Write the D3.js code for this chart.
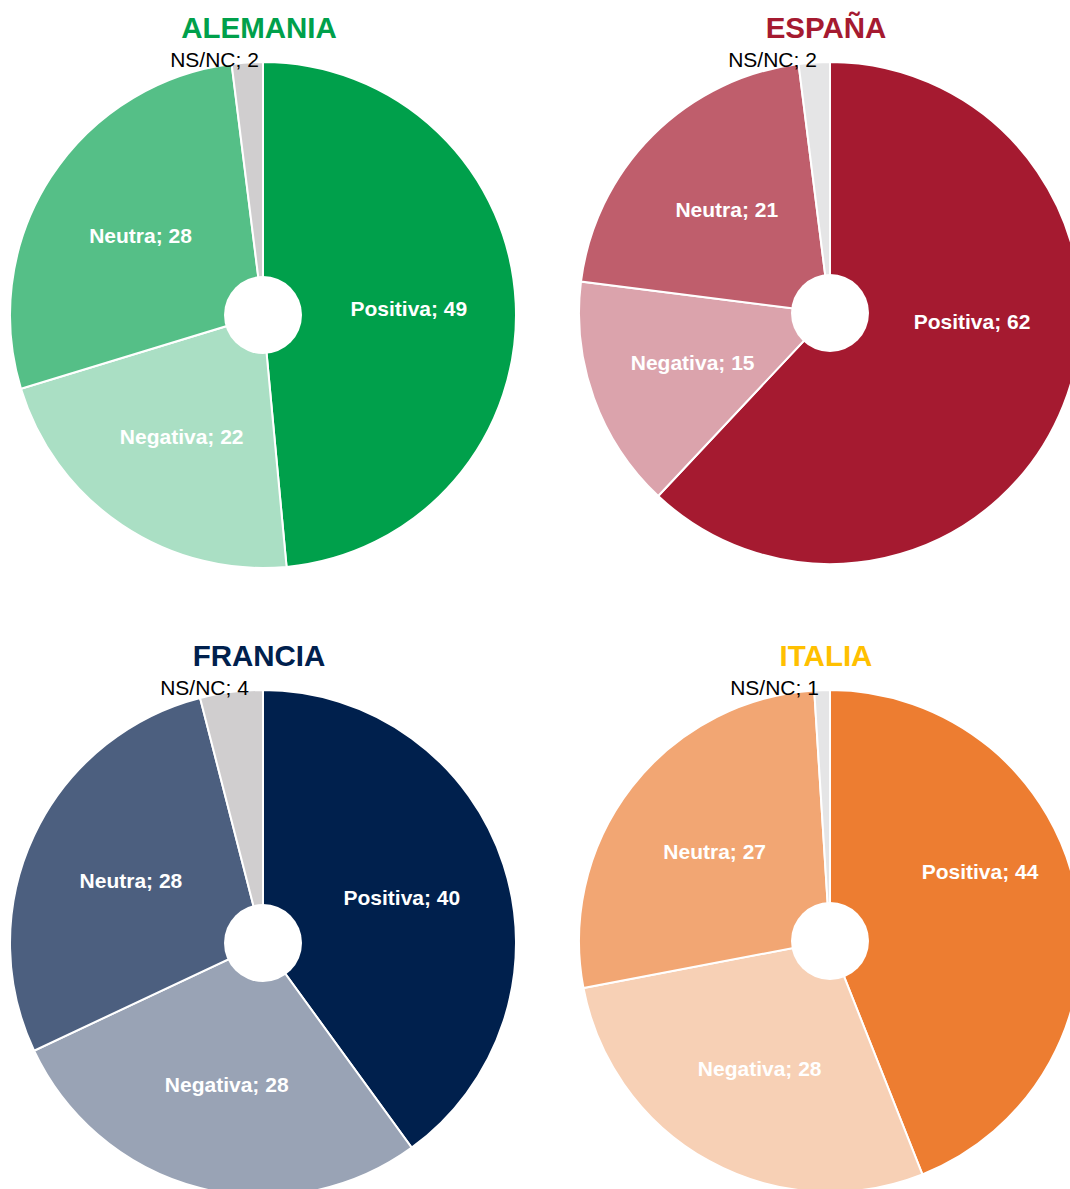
<!DOCTYPE html>
<html>
<head>
<meta charset="utf-8">
<script src="https://cdn.jsdelivr.net/npm/d3@7"></script>
<style>
  body { margin: 0; background: #fff; }
  svg { display: block; font-family: "Liberation Sans", Arial, sans-serif; }
</style>
</head>
<body>
<svg id="chart" width="1070" height="1189"></svg>
<script>
// data
const countries = ["ALEMANIA", "ESPAÑA", "FRANCIA", "ITALIA"];
const categories = ["Positiva", "Negativa", "Neutra", "NS/NC"];
const alemania = [49, 22, 28, 2];
const espana = [62, 15, 21, 2];
const francia = [40, 28, 28, 4];
const italia = [44, 28, 27, 1];
const values = [alemania, espana, francia, italia];

// colours per country: title, then one per category
const titleColors = ["#00A04B", "#A51A30", "#00204D", "#FFC000"];
const sliceColors = [
  ["#00A04B", "#AADFC4", "#55BF87", "#D0CECF"],
  ["#A51A30", "#DBA3AC", "#BF5E6C", "#E5E5E6"],
  ["#00204D", "#99A3B5", "#4C5F7F", "#D0CECF"],
  ["#ED7D31", "#F7D0B5", "#F2A673", "#E5E5E6"]
];

const svg = d3.select("#chart");

// 2 x 2 grid of pies (layout)
const layout = [
  { x: 263, y: 315, r: 253, smallDx: -48.5 },
  { x: 830, y: 313, r: 251, smallDx: -57.5, bigLabel: [142, 9] },
  { x: 263, y: 943, r: 253, smallDx: -58.5 },
  { x: 830, y: 941, r: 251, smallDx: -55.5, bigLabel: [150, -69] }
];
const holeRadius = 39;
const labelRadius = 146;

const pie = d3.pie().sort(null).value(d => d.value);
const labelArc = d3.arc().innerRadius(labelRadius).outerRadius(labelRadius);

countries.forEach(function(country, i) {
  const data = categories.map((c, j) => ({ category: c, value: values[i][j], color: sliceColors[i][j] }));
  const c = layout[i];
  const arc = d3.arc().innerRadius(0).outerRadius(c.r);
  const arcs = pie(data);

  const g = svg.append("g")
    .attr("transform", "translate(" + c.x + "," + c.y + ")");

  g.selectAll("path.slice")
    .data(arcs)
    .enter()
    .append("path")
    .attr("class", "slice")
    .attr("d", arc)
    .style("fill", d => d.data.color)
    .style("stroke", "#fff")
    .style("stroke-width", 2);

  // hole in the middle
  g.append("circle")
    .attr("r", holeRadius)
    .style("fill", "#fff");

  // labels inside the slices (big slice label moved by hand in the original)
  g.selectAll("text.inside")
    .data(arcs.filter(d => d.data.category !== "NS/NC"))
    .enter()
    .append("text")
    .attr("class", "inside")
    .attr("transform", function(d) {
      let p = labelArc.centroid(d);
      if (d.data.category === "Positiva" && c.bigLabel) p = c.bigLabel;
      return "translate(" + p + ")";
    })
    .attr("dy", "0.35em")
    .style("text-anchor", "middle")
    .style("fill", "#fff")
    .style("font-weight", "bold")
    .style("font-size", "21px")
    .text(d => d.data.category + "; " + d.data.value);

  // small slice label sits above the pie
  const small = arcs.filter(d => d.data.category === "NS/NC")[0];
  g.append("text")
    .attr("x", c.smallDx)
    .attr("y", -c.r + 5)
    .style("text-anchor", "middle")
    .style("fill", "#000")
    .style("font-size", "21px")
    .text(small.data.category + "; " + small.data.value);

  // country title
  g.append("text")
    .attr("x", -4)
    .attr("y", -c.r - 24)
    .style("text-anchor", "middle")
    .style("fill", titleColors[i])
    .style("font-weight", "bold")
    .style("font-size", "29.5px")
    .text(country);
});
</script>
</body>
</html>
